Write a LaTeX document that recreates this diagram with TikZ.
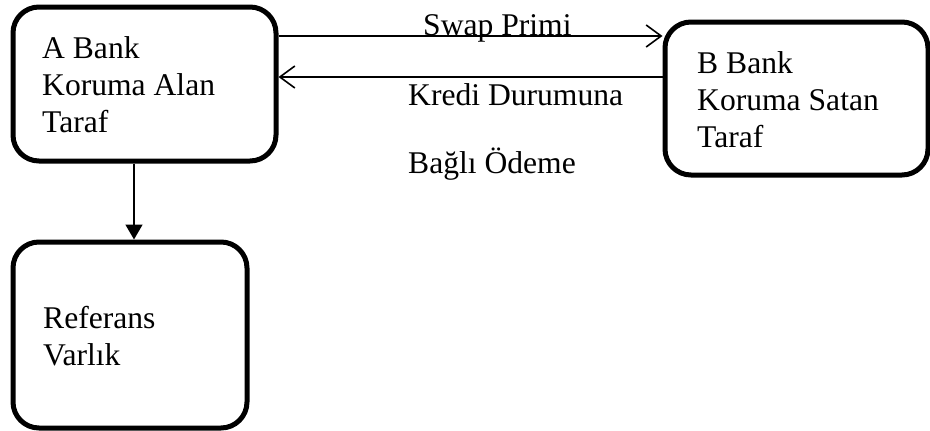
\documentclass[tikz,border=0pt]{standalone}
\usepackage{fontspec}
\setmainfont{Liberation Serif}
\usetikzlibrary{arrows.meta}

\begin{document}
\begin{tikzpicture}[x=1pt,y=-1pt,
  party/.style={draw=black, line width=5pt, rounded corners=26pt, inner sep=0pt},
  caption/.style={inner sep=0pt, anchor=base west, align=left,
    font=\fontsize{31.6pt}{36.8pt}\selectfont},
  flow/.style={line width=1.6pt, -{Straight Barb[length=15pt,width=22pt,line width=1.6pt]}},
  down/.style={line width=1.6pt, -{Triangle[length=15pt,width=17pt]}}]
\useasboundingbox (0,0) rectangle (930,431);

% the three parties
\node[party, minimum width=263pt, minimum height=154pt] (A) at (144.5,84) {};
\node[party, minimum width=263pt, minimum height=153pt] (B) at (796.5,98.5) {};
\node[party, minimum width=234pt, minimum height=186pt] (R) at (130,335) {};

% texts inside the boxes (anchored at the baseline of the last line)
\node[caption] (At) at (42,132) {A Bank\\Koruma Alan\\Taraf};
\node[caption] (Bt) at (697,147) {B Bank\\Koruma Satan\\Taraf};
\node[caption] (Rt) at (43,365) {Referans\\Varlık};

% payments between the banks
\draw[flow] ([yshift=48pt]A.east) -- ([yshift=48pt]A.east -| B.west);
\draw[flow] ([yshift=21.5pt]B.west) -- ([yshift=21.5pt]B.west -| A.east);

% link to the reference asset
\draw[down] ([xshift=-10.5pt]A.south) -- ([xshift=-10.5pt]A.south |- R.north);

% flow labels
\node[caption] (swap) at (423,35) {Swap Primi};
\node[caption] (kredi) at (408,105) {Kredi Durumuna};
\node[caption] (odeme) at (408,173) {Bağlı Ödeme};
\end{tikzpicture}
\end{document}
